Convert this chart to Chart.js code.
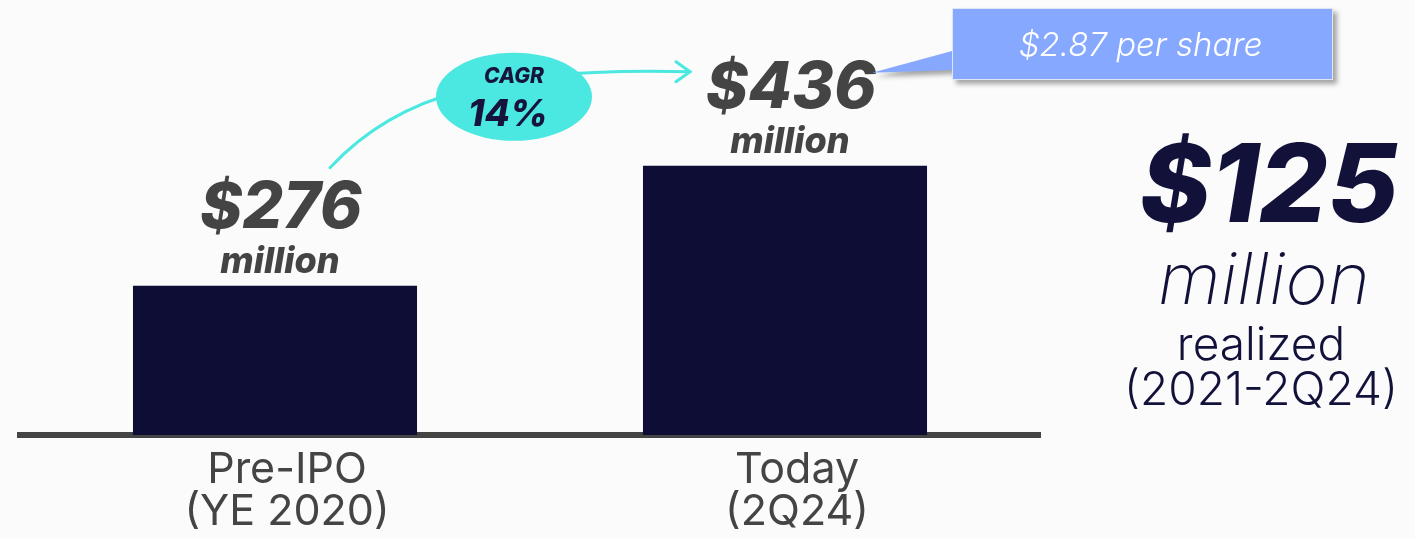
<!DOCTYPE html>
<html>
<head>
<meta charset="utf-8">
<script src="https://cdn.jsdelivr.net/npm/chart.js@4/dist/chart.umd.min.js"></script>
<style>
  html, body { margin: 0; padding: 0; background: #fbfbfc; }
  #wrap { position: relative; width: 1415px; height: 539px; }
</style>
</head>
<body>
<div id="wrap"><canvas id="chart" width="1415" height="539"></canvas></div>
<script>
// data
const categories = [['Pre-IPO', '(YE 2020)'], ['Today', '(2Q24)']];
const values = [276, 436];
const valueLabels = ['$276', '$436'];
const unitLabel = 'million';
const cagrLabel = ['CAGR', '14%'];
const perShareLabel = '$2.87 per share';
const realizedLines = ['$125', 'million', 'realized', '(2021-2Q24)'];

const yMin = 77;
const yMax = 657;

const navy = '#0e0d36';
const gray = '#444444';
const teal = '#4ae8e0';

const overlayPlugin = {
    id: 'overlay',
    afterDraw(chart) {
        const ctx = chart.ctx;
        const bars = chart.getDatasetMeta(0).data;
        const b1 = bars[0], b2 = bars[1];

        ctx.save();
        ctx.textAlign = 'center';
        ctx.textBaseline = 'alphabetic';

        // value labels above bars
        bars.forEach((bar, i) => {
            ctx.fillStyle = gray;
            ctx.font = 'italic 800 64px Inter';
            ctx.fillText(valueLabels[i], bar.x + 6, bar.y - 58);
            ctx.font = 'italic 800 36px Inter';
            ctx.fillText(unitLabel, bar.x + 5, bar.y - 13);
        });

        // CAGR arrow
        const start = { x: b1.x + 55, y: b1.y - 118 };
        const tip = { x: b2.x - 95, y: b2.y - 94 };
        ctx.strokeStyle = teal;
        ctx.lineWidth = 3;
        ctx.lineCap = 'round';
        ctx.beginPath();
        ctx.moveTo(start.x, start.y);
        ctx.bezierCurveTo(start.x + 70, start.y - 75, tip.x - 190, tip.y - 5, tip.x, tip.y);
        ctx.stroke();
        ctx.beginPath();
        ctx.moveTo(tip.x - 14, tip.y - 10);
        ctx.lineTo(tip.x, tip.y);
        ctx.lineTo(tip.x - 14, tip.y + 10);
        ctx.stroke();

        // CAGR bubble
        const cx = (b1.x + b2.x) / 2 - 16;
        const cy = b2.y - 69;
        ctx.fillStyle = teal;
        ctx.beginPath();
        ctx.ellipse(cx, cy, 78, 44, 0, 0, Math.PI * 2);
        ctx.fill();
        ctx.fillStyle = '#16143c';
        ctx.font = 'italic 800 21px Inter';
        ctx.fillText(cagrLabel[0], cx, cy - 14);
        ctx.font = 'italic 800 37px Inter';
        ctx.fillText(cagrLabel[1], cx - 6, cy + 29);

        // per share callout
        const rx = 952, ry = 8, rw = 381, rh = 72;
        ctx.save();
        ctx.shadowColor = 'rgba(0,0,0,0.35)';
        ctx.shadowOffsetX = 4;
        ctx.shadowOffsetY = 4;
        ctx.shadowBlur = 5;
        ctx.fillStyle = '#87a8ff';
        ctx.beginPath();
        ctx.moveTo(rx, ry);
        ctx.lineTo(rx + rw, ry);
        ctx.lineTo(rx + rw, ry + rh);
        ctx.lineTo(rx, ry + rh);
        ctx.lineTo(rx, 70);
        ctx.lineTo(b2.x + 87, b2.y - 93);
        ctx.lineTo(rx, 51);
        ctx.closePath();
        ctx.fill();
        ctx.restore();
        ctx.strokeStyle = '#dfe6f5';
        ctx.lineWidth = 1;
        ctx.strokeRect(rx + 0.5, ry + 0.5, rw - 1, rh - 1);
        ctx.fillStyle = '#ffffff';
        ctx.font = 'italic 300 33px Inter';
        ctx.fillText(perShareLabel, rx + rw / 2 - 2, ry + 48);

        // realized block on the right
        ctx.fillStyle = '#12113a';
        ctx.font = 'italic 800 108px Inter';
        ctx.fillText(realizedLines[0], 1269, 222);
        ctx.font = 'italic 200 72px Inter';
        ctx.fillText(realizedLines[1], 1264, 304);
        ctx.font = '300 46px Inter';
        ctx.fillText(realizedLines[2], 1261, 360);
        ctx.fillText(realizedLines[3], 1261, 405);

        ctx.restore();
    }
};

new Chart(document.getElementById('chart'), {
    type: 'bar',
    data: {
        labels: categories,
        datasets: [{
            data: values,
            base: yMin,
            backgroundColor: navy,
            borderWidth: 0,
            categoryPercentage: 1,
            barPercentage: 0.557
        }]
    },
    options: {
        responsive: false,
        animation: false,
        layout: {
            padding: { left: 20, right: 375, top: 0, bottom: 0 }
        },
        plugins: {
            legend: { display: false },
            tooltip: { enabled: false }
        },
        scales: {
            x: {
                z: 1,
                grid: { display: false, drawTicks: false },
                border: { display: true, color: gray, width: 6 },
                ticks: {
                    color: '#444444',
                    font: { family: 'Inter', size: 43, weight: 400, lineHeight: 0.98 },
                    padding: 14,
                    labelOffset: 12
                },
                afterFit(scale) { scale.height = 104; }
            },
            y: {
                display: false,
                min: yMin,
                max: yMax
            }
        }
    },
    plugins: [overlayPlugin]
});
</script>
</body>
</html>
